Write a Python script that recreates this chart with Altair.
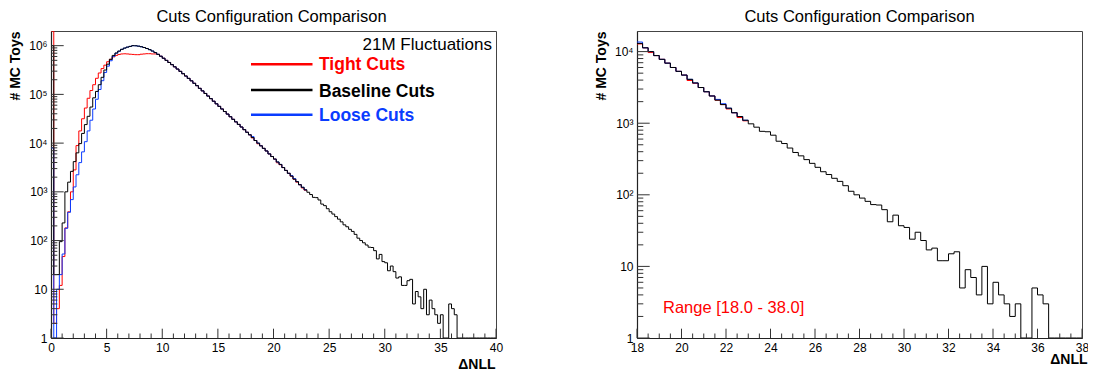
import altair as alt
import pandas as pd

FONT = "Liberation Sans"
TITLE = "Cuts Configuration Comparison"
NOTE = "21M Fluctuations"
RANGE_NOTE = "Range [18.0 - 38.0]"
SERIES = ["Tight Cuts", "Baseline Cuts", "Loose Cuts"]
COLORS = ["#ff0000", "#000000", "#0a3cff"]

BIN_WIDTH = 0.25
BIN_LOW = [k * BIN_WIDTH for k in range(160)]

BASELINE = [
    1000000, 20, 20, 95, 230, 1000, 1580, 2630, 4170, 6310,
    9770, 15800, 24000, 35500, 55000, 85100, 115000, 158000, 224000, 316000,
    417000, 525000, 631000, 708000, 776000, 841000, 891000, 933000, 966000, 1000000,
    995000, 977000, 951000, 916000, 875000, 828000, 776000, 721000, 664000, 607000,
    552000, 499000, 452000, 408000, 368000, 331000, 297000, 266000, 238000, 213000,
    190000, 169000, 151000, 133000, 118000, 104500, 92500, 81800, 72400, 64100,
    56800, 50200, 44500, 39400, 34800, 30800, 27300, 24200, 21400, 18900,
    16700, 14800, 13000, 11300, 10000, 8800, 7800, 6900, 6000, 5300,
    4700, 4100, 3650, 3150, 2750, 2400, 2100, 1820, 1620, 1400,
    1240, 1100, 980, 880, 770, 760, 680, 560, 520, 450,
    390, 350, 310, 275, 242, 210, 192, 170, 154, 134,
    112, 100, 90, 81, 73, 72, 62, 42, 52, 37,
    35, 24, 30, 23, 17, 18, 12, 12, 15, 16,
    5, 9, 7, 4, 10, 3, 6, 4, 3, 2,
    3, 0, 0, 5, 4, 3, 0, 0, 0, 0,
    0, 0, 0, 0, 0, 0, 0, 0, 0, 0,
]

TIGHT = [
    5000000, 2, 4, 12, 47, 182, 389, 1000, 2820, 8910,
    17800, 31600, 52500, 83200, 120000, 158000, 214000, 275000, 339000, 398000,
    468000, 525000, 589000, 631000, 661000, 676000, 681000, 676000, 668000, 661000,
    653000, 653000, 668000, 676000, 684000, 684000, 676000, 676000, 664000, 607000,
    552000, 499000, 452000, 408000, 368000, 331000, 297000, 266000, 238000, 213000,
    190000, 169000, 151000, 133000, 118000, 104500, 92500, 81800, 72400, 64100,
    56800, 50200, 44500, 39400, 34800, 30800, 27300, 24200, 21400, 18900,
    16700, 14800, 12800, 11300, 9700, 8800, 7800, 6900, 6000, 5300,
    4700, 3950, 3600, 3150, 2750, 2400, 2100, 1820, 1580, 1400,
    1200, 1080,
]

LOOSE = [
    8000, 0, 10, 20, 53, 178, 380, 692, 1260, 2240,
    3980, 6610, 10700, 17800, 29500, 50100, 79400, 126000, 191000, 282000,
    380000, 490000, 603000, 700000, 768000, 841000, 891000, 933000, 966000, 1000000,
    995000, 977000, 951000, 916000, 875000, 828000, 776000, 721000, 664000, 607000,
    552000, 499000, 452000, 408000, 368000, 331000, 297000, 266000, 238000, 213000,
    190000, 169000, 151000, 133000, 118000, 104500, 92500, 81800, 72400, 64100,
    56800, 50200, 44500, 39400, 34800, 30800, 27300, 24200, 21400, 18900,
    16700, 14800, 13600, 11300, 10000, 8800, 7800, 6900, 6000, 5300,
    4700, 4100, 3650, 3150, 2750, 2400, 2150, 1870, 1620, 1400,
    1240, 1100,
]

LEFT_X_MAJOR = [0, 5, 10, 15, 20, 25, 30, 35, 40]
LEFT_X_MINOR = [v for v in range(0, 41) if v % 5 != 0]
RIGHT_X_MAJOR = [18, 20, 22, 24, 26, 28, 30, 32, 34, 36, 38]
RIGHT_X_MINOR = [18 + 0.5 * k for k in range(41) if (k % 4) != 0]
Y_DECADES = [1, 10, 100, 1000, 10000, 100000, 1000000]
Y_MINOR = [m * d for d in Y_DECADES for m in range(2, 10)]

LEGEND_LINE_Y = [33.3, 59.0, 83.7]
LEGEND_TEXT_Y = [39.0, 65.7, 89.7]

W, H = 445, 307


def hist_rows(name, vals):
    rows = [{"series": name, "x": BIN_LOW[i], "v": v} for i, v in enumerate(vals)]
    rows.append({"series": name, "x": BIN_LOW[len(vals) - 1] + BIN_WIDTH, "v": vals[-1]})
    return rows


rows = []
for name, vals in zip(SERIES, [TIGHT, BASELINE, LOOSE]):
    rows += hist_rows(name, vals)
hist_df = pd.DataFrame(rows)

LABEL_EXPR = (
    "datum.value < 5 ? '1' : datum.value < 50 ? '10' : datum.value < 500 ? '10²' : "
    "datum.value < 5000 ? '10³' : datum.value < 50000 ? '10⁴' : "
    "datum.value < 500000 ? '10⁵' : '10⁶'"
)


def panel(xmin, xmax, ymax, xmaj, xminor, xtitle_x, xtitle_y, title_x, extras):
    xs = alt.Scale(domain=[xmin, xmax], nice=False, zero=False)
    ys = alt.Scale(type="log", domain=[1, ymax], nice=False, clamp=True)
    yvals = [v for v in Y_DECADES if v <= ymax]
    x_axis = alt.Axis(
        values=xmaj, ticks=False, labelPadding=4, labelFontSize=12, labelFont=FONT,
        labelColor="black", labelFlush=False, labelOverlap=False, grid=False,
        domainColor="#222", domainWidth=1.2,
        titleFont=FONT, titleFontSize=14, titleFontWeight="bold", titleColor="black",
        titleAnchor="end", titleAlign="right", titleBaseline="alphabetic",
        titleX=xtitle_x, titleY=xtitle_y, title="ΔNLL",
    )
    y_axis = alt.Axis(
        values=yvals, labelExpr=LABEL_EXPR, ticks=False, labelPadding=4, labelFontSize=12,
        labelFont=FONT, labelColor="black", labelFlush=False, labelOverlap=False, grid=False,
        domainColor="#222", domainWidth=1.2,
        titleFont=FONT, titleFontSize=14, titleFontWeight="bold", titleColor="black",
        titleAnchor="end", titleAngle=270, titleAlign="right", titleBaseline="alphabetic",
        titleX=-32, titleY=0, title="# MC Toys",
    )
    layers = []
    order = [0, 2, 1]
    for i in order:
        name, color = SERIES[i], COLORS[i]
        layers.append(
            alt.Chart(hist_df)
            .transform_filter(alt.datum.series == name)
            .transform_filter(alt.datum.x >= xmin)
            .transform_calculate(vp="max(datum.v, 1)")
            .mark_line(interpolate="step-after", color=color, strokeWidth=1, clip=True)
            .encode(
                x=alt.X("x:Q", scale=xs, axis=x_axis, title="ΔNLL"),
                y=alt.Y("vp:Q", scale=ys, axis=y_axis, title="# MC Toys"),
            )
        )
    # inward ticks
    ymaj_df = pd.DataFrame({"t": yvals})
    ymin_df = pd.DataFrame({"t": [v for v in Y_MINOR if v < ymax]})
    layers.append(alt.Chart(ymaj_df).mark_rule(color="#333", strokeWidth=1).encode(
        y=alt.Y("t:Q", scale=ys, axis=y_axis, title="# MC Toys"), x=alt.value(0), x2=alt.value(12.7)))
    layers.append(alt.Chart(ymin_df).mark_rule(color="#333", strokeWidth=1).encode(
        y=alt.Y("t:Q", scale=ys, axis=y_axis, title="# MC Toys"), x=alt.value(0), x2=alt.value(6.3)))
    layers.append(alt.Chart(pd.DataFrame({"t": xmaj})).mark_rule(color="#333", strokeWidth=1).encode(
        x=alt.X("t:Q", scale=xs, axis=x_axis, title="ΔNLL"), y=alt.value(H), y2=alt.value(H - 9.3)))
    layers.append(alt.Chart(pd.DataFrame({"t": xminor})).mark_rule(color="#333", strokeWidth=1).encode(
        x=alt.X("t:Q", scale=xs, axis=x_axis, title="ΔNLL"), y=alt.value(H), y2=alt.value(H - 4.5)))
    # panel title as text
    layers.append(
        alt.Chart(pd.DataFrame({"t": [TITLE]})).mark_text(
            align="center", baseline="alphabetic", font=FONT, fontSize=16.5, color="black"
        ).encode(text="t:N", x=alt.value(title_x), y=alt.value(-9.5))
    )
    layers += extras
    return alt.layer(*layers).properties(width=W, height=H)


left_extras = [
    alt.Chart(pd.DataFrame({"t": [NOTE]})).mark_text(
        align="right", baseline="alphabetic", font=FONT, fontSize=17, color="black"
    ).encode(text="t:N", x=alt.value(441), y=alt.value(19))
]
for name, color, ly, ty in zip(SERIES, COLORS, LEGEND_LINE_Y, LEGEND_TEXT_Y):
    left_extras.append(
        alt.Chart(pd.DataFrame({"s": [name]})).mark_rule(color=color, strokeWidth=2.5).encode(
            x=alt.value(200), x2=alt.value(261.5), y=alt.value(ly))
    )
    left_extras.append(
        alt.Chart(pd.DataFrame({"s": [name]})).mark_text(
            align="left", baseline="alphabetic", font=FONT, fontSize=17.5, fontWeight="bold", color=color
        ).encode(text="s:N", x=alt.value(268), y=alt.value(ty))
    )

right_extras = [
    alt.Chart(pd.DataFrame({"t": [RANGE_NOTE]})).mark_text(
        align="left", baseline="alphabetic", font=FONT, fontSize=16.5, color="#ff0000"
    ).encode(text="t:N", x=alt.value(26), y=alt.value(282))
]

left = panel(0, 40, 2.0e6, LEFT_X_MAJOR, LEFT_X_MINOR, W - 1, 30, 220.5, left_extras)
right = panel(18, 38, 1.94e4, RIGHT_X_MAJOR, RIGHT_X_MINOR, W + 5, 25, 222.5, right_extras)

chart = (
    alt.hconcat(left, right, spacing=141, bounds="flush")
    .properties(
        autosize=alt.AutoSizeParams(type="none"),
        padding={"left": 43, "top": 23, "right": 1037, "bottom": 339},
        background="white",
    )
    .configure_view(stroke="#444", strokeWidth=1)
)

chart.save("out.html", embed_options={"renderer": "svg", "actions": False})
